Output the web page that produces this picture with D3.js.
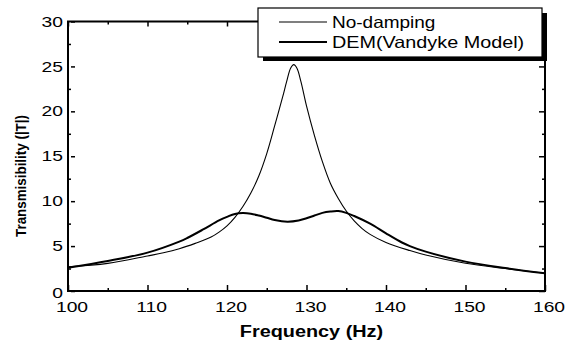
<!DOCTYPE html>
<html>
<head>
<meta charset="utf-8">
<script src="https://cdn.jsdelivr.net/npm/d3@7"></script>
<style>
  body { margin: 0; background: #fff; }
  text { font-family: "Liberation Sans", Arial, sans-serif; fill: #000; }
</style>
</head>
<body>
<div id="chart"></div>
<script>
var svgWidth = 574;
var svgHeight = 341;

var margin = { top: 21.5, right: 29, bottom: 50, left: 68 };
var width = svgWidth - margin.left - margin.right;
var height = svgHeight - margin.top - margin.bottom;

// no-damping curve
var noDampFreq = [100, 105, 110, 112, 114, 116, 118, 119, 120, 121, 122, 123, 124, 125, 126, 127, 127.5, 128, 128.4, 128.8, 129.3, 130, 131, 132, 133, 134, 135, 136, 137, 138, 140, 143, 145, 150, 155, 160];
var noDampT = [2.7, 3.08, 3.9, 4.25, 4.7, 5.3, 6.0, 6.55, 7.25, 8.2, 9.4, 10.9, 12.8, 15.3, 18.4, 21.6, 23.3, 24.8, 25.2, 24.8, 23.3, 20.6, 17.3, 14.4, 12.0, 10.3, 8.9, 7.8, 6.95, 6.3, 5.4, 4.5, 4.0, 3.08, 2.5, 1.97];

// DEM (Vandyke model) curve
var demFreq = [100, 105, 110, 114, 115, 117, 119, 120, 121, 122, 123, 124, 125, 126, 127.6, 129, 130, 131, 132, 133, 134, 135, 136, 138, 140, 142, 143, 145, 150, 155, 160];
var demT = [2.6, 3.34, 4.27, 5.5, 5.9, 6.85, 7.85, 8.25, 8.58, 8.67, 8.6, 8.4, 8.15, 7.9, 7.72, 7.85, 8.1, 8.4, 8.7, 8.85, 8.9, 8.7, 8.35, 7.5, 6.42, 5.4, 5.0, 4.38, 3.27, 2.55, 1.97];

var xTicks = [100, 110, 120, 130, 140, 150, 160];
var xMinor = [105, 115, 125, 135, 145, 155];
var yTicks = [0, 5, 10, 15, 20, 25, 30];
var yMinor = [2.5, 7.5, 12.5, 17.5, 22.5, 27.5];

var legendLabels = ["No-damping", "DEM(Vandyke Model)"];

var svg = d3.select("#chart").append("svg")
    .attr("width", svgWidth)
    .attr("height", svgHeight);

var g = svg.append("g")
    .attr("transform", `translate(${margin.left}, ${margin.top})`);

var x = d3.scaleLinear().domain([100, 160]).range([0, width]);
var y = d3.scaleLinear().domain([0, 30]).range([height, 0]);

// stretch text horizontally, the scan looks wider than normal Arial
function stretch(sel, k) {
    sel.each(function() {
        var w = this.getComputedTextLength();
        d3.select(this).attr("textLength", w * k).attr("lengthAdjust", "spacingAndGlyphs");
    });
}

// curves
var line = d3.line()
    .x(d => x(d[0]))
    .y(d => y(d[1]))
    .curve(d3.curveCatmullRom.alpha(0.5));

g.append("path")
    .datum(noDampFreq.map((f, i) => [f, noDampT[i]]))
    .attr("d", line)
    .attr("fill", "none")
    .attr("stroke", "#000")
    .attr("stroke-width", 1.1);

g.append("path")
    .datum(demFreq.map((f, i) => [f, demT[i]]))
    .attr("d", line)
    .attr("fill", "none")
    .attr("stroke", "#000")
    .attr("stroke-width", 2);

// axes with inward ticks
var bottomAxis = g.append("g").attr("transform", `translate(0, ${height})`)
    .call(d3.axisBottom(x).tickValues(xTicks).tickSize(-6).tickPadding(11).tickFormat(d3.format("d")));
var bottomMinor = g.append("g").attr("transform", `translate(0, ${height})`)
    .call(d3.axisBottom(x).tickValues(xMinor).tickSize(-3).tickFormat(""));
var topAxis = g.append("g")
    .call(d3.axisTop(x).tickValues(xTicks).tickSize(-5).tickFormat(""));
var topMinor = g.append("g")
    .call(d3.axisTop(x).tickValues(xMinor).tickSize(-3).tickFormat(""));

var leftAxis = g.append("g")
    .call(d3.axisLeft(y).tickValues(yTicks).tickSizeInner(-7).tickSizeOuter(0).tickPadding(5));
var leftMinor = g.append("g")
    .call(d3.axisLeft(y).tickValues(yMinor).tickSize(-3).tickFormat(""));
var rightAxis = g.append("g").attr("transform", `translate(${width}, 0)`)
    .call(d3.axisRight(y).tickValues(yTicks).tickSize(-6).tickFormat(""));
var rightMinor = g.append("g").attr("transform", `translate(${width}, 0)`)
    .call(d3.axisRight(y).tickValues(yMinor).tickSize(-3).tickFormat(""));

g.selectAll(".domain").remove();
g.selectAll(".tick line").attr("stroke", "#000").attr("stroke-width", 1.5);
leftAxis.selectAll(".tick line").attr("x1", 3);

bottomAxis.selectAll("text")
    .attr("font-size", 14.5)
    .attr("dx", 3.5)
    .call(stretch, 1.33);
leftAxis.selectAll("text")
    .attr("font-size", 14.5)
    .attr("x", -5)
    .call(stretch, 1.33);
leftAxis.selectAll(".tick")
    .filter(d => d === 0)
    .select("text").attr("dy", "0.45em");

// frame
g.append("rect")
    .attr("width", width)
    .attr("height", height)
    .attr("fill", "none")
    .attr("stroke", "#000")
    .attr("stroke-width", 2);

// axis titles
var xTitle = svg.append("text")
    .attr("x", margin.left + width / 2 + 5)
    .attr("y", 337)
    .attr("text-anchor", "middle")
    .attr("font-size", 16)
    .attr("font-weight", "bold")
    .text("Frequency (Hz)");
xTitle.call(stretch, 1.24);

var yTitle = svg.append("text")
    .attr("transform", "translate(26, 176) rotate(-90)")
    .attr("text-anchor", "middle")
    .attr("font-size", 14)
    .attr("font-weight", "bold")
    .text("Transmisibility (|T|)");
yTitle.attr("textLength", 122).attr("lengthAdjust", "spacingAndGlyphs");

// legend box with shadow
var legend = svg.append("g");
legend.append("rect")
    .attr("x", 263).attr("y", 13)
    .attr("width", 284).attr("height", 48)
    .attr("fill", "#000");
legend.append("rect")
    .attr("x", 258).attr("y", 8)
    .attr("width", 284).attr("height", 49)
    .attr("fill", "#fff")
    .attr("stroke", "#000")
    .attr("stroke-width", 1.2);

legendLabels.forEach(function(name, i) {
    var ly = 22 + i * 20;
    legend.append("line")
        .attr("x1", 279).attr("x2", 327)
        .attr("y1", ly).attr("y2", ly)
        .attr("stroke", "#000")
        .attr("stroke-width", i === 0 ? 1.1 : 2);
    legend.append("text")
        .attr("x", 332)
        .attr("y", ly + 6)
        .attr("font-size", 16.5)
        .text(name)
        .call(stretch, i === 0 ? 1.15 : 1.2);
});
</script>
</body>
</html>
